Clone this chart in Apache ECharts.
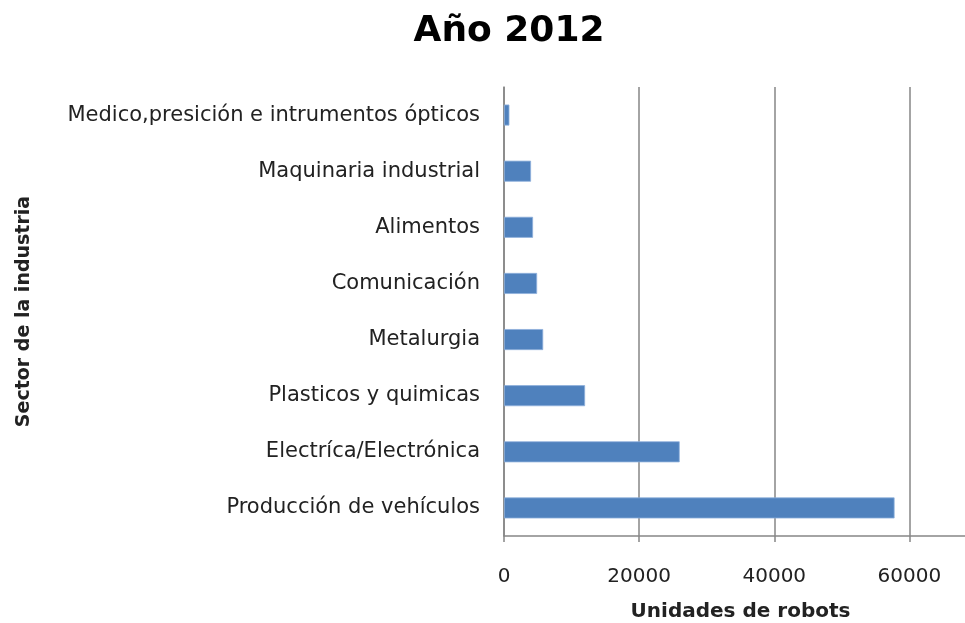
<!DOCTYPE html>
<html><head><meta charset="utf-8">
<script src="https://cdn.jsdelivr.net/npm/echarts@6/dist/echarts.min.js"></script>
<style>html,body{margin:0;padding:0;background:#fff;overflow:hidden}#c{width:965px;height:623px}</style>
</head><body><div id="c"></div>
<script>
const categories = ["Producción de vehículos","Electríca/Electrónica","Plasticos y quimicas","Metalurgia","Comunicación","Alimentos","Maquinaria industrial","Medico,presición e intrumentos ópticos"];
const values = [57800, 26000, 12000, 5800, 4900, 4300, 4000, 800];
const xTicks = [0, 20000, 40000, 60000, 70000];
const chart = echarts.init(document.getElementById('c'));
const fam = '"DejaVu Sans", sans-serif';
chart.setOption({
  animation:false,
  title:{text:'Año 2012', left:504, top:9, textAlign:'center',
    textStyle:{fontFamily:fam, fontSize:36, fontWeight:'bold', color:'#000'}},
  grid:{left:504, top:87, width:473, height:449, outerBoundsMode:'none', containLabel:false},
  xAxis:{type:'value', min:xTicks[0], max:xTicks[xTicks.length-1], interval:20000,
    name:'Unidades de robots', nameLocation:'middle', nameGap:66,
    nameTextStyle:{fontFamily:fam, fontSize:20, fontWeight:'bold', color:'#222'},
    axisLine:{show:true, lineStyle:{color:'#868686', width:1.5}},
    axisTick:{show:true, length:6, lineStyle:{color:'#868686', width:1.5}},
    axisLabel:{fontFamily:fam, fontSize:20, color:'#222', margin:31, showMaxLabel:false,
      formatter:function(v){return String(v);}},
    splitLine:{show:true, lineStyle:{color:'#868686', width:1.5}}},
  yAxis:{type:'category', data:categories,
    name:'Sector de la industria', nameLocation:'middle', nameGap:470, nameRotate:90,
    nameTextStyle:{fontFamily:fam, fontSize:19, fontWeight:'bold', color:'#222'},
    axisLine:{show:true, lineStyle:{color:'#868686', width:1.5}},
    axisTick:{show:false},
    axisLabel:{fontFamily:fam, fontSize:21, color:'#222', margin:24}},
  series:[{type:'bar', data:values, barWidth:21,
    itemStyle:{color:'#4f81bd', borderColor:'#8eb0dc', borderWidth:0.8}}]
});
</script></body></html>
